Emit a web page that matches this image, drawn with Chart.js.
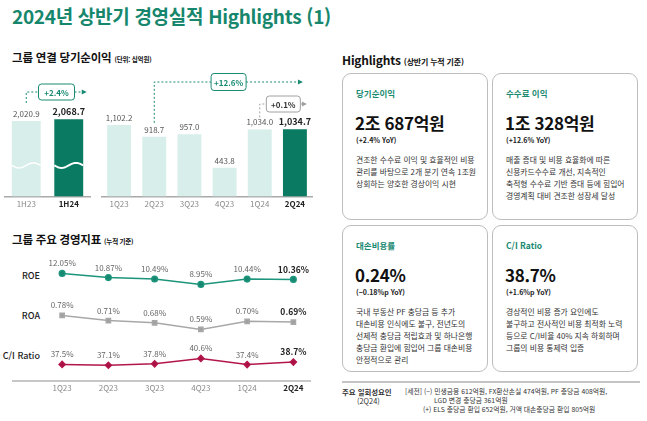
<!DOCTYPE html>
<html lang="ko">
<head>
<meta charset="utf-8">
<script src="https://cdn.jsdelivr.net/npm/chart.js@4.4.1/dist/chart.umd.min.js"></script>
<style>
  body { margin:0; width:647px; height:421px; overflow:hidden; background:#fff; position:relative;
         font-family:"Noto Sans CJK KR","Noto Sans",sans-serif; color:#222; }
  .abs { position:absolute; white-space:nowrap; }
  .title { left:12px; top:2px; font-size:19px; font-weight:700; color:#16876c; letter-spacing:-0.3px; }
  .sec { font-size:11.5px; font-weight:700; color:#111; letter-spacing:-0.2px; }
  .sec small { font-size:6.5px; font-weight:700; }
  .rowlbl { width:40px; text-align:right; left:0; font-size:9px; font-weight:500; color:#222; }
  .card { position:absolute; border:1px solid #bdbdbd; border-radius:9px; box-sizing:border-box; }
  .card .hd { position:absolute; left:13px; top:13px; font-size:8.5px; font-weight:700; color:#1a8a72; white-space:nowrap; }
  .card .big { position:absolute; left:12px; top:38px; font-size:17px; font-weight:700; color:#111; line-height:22px; white-space:nowrap; letter-spacing:-0.3px; }
  .card .yoy { position:absolute; left:13px; top:61px; font-size:7px; font-weight:700; color:#222; white-space:nowrap; }
  .card .txt { position:absolute; left:13px; top:80px; font-size:7.8px; line-height:12px; color:#333; white-space:nowrap; }
  .foot { font-size:6.8px; color:#333; }
  canvas { position:absolute; }
</style>
</head>
<body>
<div class="abs title">2024년 상반기 경영실적 Highlights (1)</div>

<div class="abs sec" style="left:12px; top:49px;">그룹 연결 당기순이익 <small>(단위: 십억원)</small></div>
<canvas id="halfChart" width="100" height="142" style="left:0; top:70px;"></canvas>
<canvas id="quarterChart" width="215" height="142" style="left:100px; top:70px;"></canvas>

<div class="abs sec" style="left:12px; top:231px;">그룹 주요 경영지표 <small>(누적 기준)</small></div>
<div class="abs rowlbl" style="top:269px;">ROE</div>
<div class="abs rowlbl" style="top:309px;">ROA</div>
<div class="abs rowlbl" style="top:349px;">C/I Ratio</div>
<canvas id="ratioChart" width="322" height="151" style="left:0; top:245px;"></canvas>

<div class="abs sec" style="left:342px; top:51px; font-size:12px;">Highlights <small style="font-size:8px;">(상반기 누적 기준)</small></div>

<div class="card" style="left:342px; top:73px; width:146px; height:147px;">
  <div class="hd">당기순이익</div>
  <div class="big">2조 687억원</div>
  <div class="yoy">(+2.4% YoY)</div>
  <div class="txt">견조한 수수료 이익 및 효율적인 비용<br>관리를 바탕으로 2개 분기 연속 1조원<br>상회하는 양호한 경상이익 시현</div>
</div>
<div class="card" style="left:492px; top:73px; width:146px; height:147px;">
  <div class="hd">수수료 이익</div>
  <div class="big">1조 328억원</div>
  <div class="yoy">(+12.6% YoY)</div>
  <div class="txt">매출 증대 및 비용 효율화에 따른<br>신용카드수수료 개선, 지속적인<br>축적형 수수료 기반 증대 등에 힘입어<br>경영계획 대비 견조한 성장세 달성</div>
</div>
<div class="card" style="left:342px; top:225px; width:146px; height:147px;">
  <div class="hd">대손비용률</div>
  <div class="big">0.24%</div>
  <div class="yoy">(−0.18%p YoY)</div>
  <div class="txt">국내 부동산 PF 충당금 등 추가<br>대손비용 인식에도 불구, 전년도의<br>선제적 충당금 적립효과 및 하나은행<br>충당금 환입에 힘입어 그룹 대손비용<br>안정적으로 관리</div>
</div>
<div class="card" style="left:492px; top:225px; width:146px; height:147px;">
  <div class="hd">C/I Ratio</div>
  <div class="big">38.7%</div>
  <div class="yoy">(+1.6%p YoY)</div>
  <div class="txt">경상적인 비용 증가 요인에도<br>불구하고 전사적인 비용 최적화 노력<br>등으로 C/I비율 40% 지속 하회하며<br>그룹의 비용 통제력 입증</div>
</div>

<div class="abs" style="left:342px; top:381px; width:298px; height:2px; background:#c4c4c4;"></div>
<div class="abs foot" style="left:342px; top:386px; font-weight:700; font-size:7.4px;">주요 일회성요인</div>
<div class="abs foot" style="left:357px; top:395px; font-size:7.4px;">(2Q24)</div>
<div class="abs foot" style="left:405px; top:386px;">[세전] (−) 민생금융 612억원, FX환산손실 474억원, PF 충당금 408억원,</div>
<div class="abs foot" style="left:434px; top:395px;">LGD 변경 충당금 361억원</div>
<div class="abs foot" style="left:423px; top:404px;">(+) ELS 충당금 환입 652억원, 거액 대손충당금 환입 805억원</div>

<script>
// data
const halfLabels = ["1H23", "1H24"];
const halfProfit = [2020.9, 2068.7];
const quarterLabels = ["1Q23", "2Q23", "3Q23", "4Q23", "1Q24", "2Q24"];
const quarterProfit = [1102.2, 918.7, 957.0, 443.8, 1034.0, 1034.7];
const roe = [12.05, 10.87, 10.49, 8.95, 10.44, 10.36];
const roa = [0.78, 0.71, 0.68, 0.59, 0.7, 0.69];
const ciRatio = [37.5, 37.1, 37.8, 40.6, 37.4, 38.7];

const LIGHT = "#d8eeea";
const DARK = "#0b7a62";
const TEAL = "#1a8a72";
const FONT = "'Noto Sans CJK KR', 'Noto Sans', sans-serif";

Chart.defaults.font.family = FONT;

// value labels above bars, last one bold
const barLabels = {
  id: "barLabels",
  afterDatasetsDraw(chart) {
    const ctx = chart.ctx;
    const vals = chart.data.datasets[0].data;
    chart.getDatasetMeta(0).data.forEach((bar, i) => {
      const last = i === vals.length - 1;
      ctx.save();
      ctx.font = (last ? "bold 9px " : "8px ") + FONT;
      ctx.fillStyle = last ? "#222" : "#555";
      ctx.textAlign = "center";
      ctx.textBaseline = "bottom";
      ctx.fillText(vals[i].toLocaleString("en-US", { minimumFractionDigits: 1 }), bar.x, bar.y - 3);
      ctx.restore();
    });
  },
};

// axis break squiggle on half-year bars
const waveBreak = {
  id: "waveBreak",
  afterDatasetsDraw(chart, args, opts) {
    if (!opts.on) return;
    const ctx = chart.ctx;
    chart.getDatasetMeta(0).data.forEach((bar, i) => {
      const y = chart.chartArea.bottom - 31;
      const left = bar.x - bar.width / 2, w = bar.width;
      ctx.save();
      ctx.strokeStyle = "#fff";
      ctx.lineWidth = i === 1 ? 2 : 1.5;
      ctx.beginPath();
      for (let k = 0; k <= 20; k++) {
        const x = left + (w * k) / 20;
        const yy = y + 2.5 * Math.sin((k / 20) * Math.PI * 2);
        k === 0 ? ctx.moveTo(x, yy) : ctx.lineTo(x, yy);
      }
      ctx.stroke();
      ctx.restore();
    });
  },
};

// dashed growth arrows with a boxed percentage
const growthArrows = {
  id: "growthArrows",
  afterDatasetsDraw(chart, args, opts) {
    const ctx = chart.ctx;
    const bars = chart.getDatasetMeta(0).data;
    (opts.list || []).forEach((a) => {
      const x0 = bars[a.from].x;
      const y0 = bars[a.from].y - a.gap;
      const x1 = bars[bars.length - 1].x + a.reach;
      const y = a.y;
      const bx = (x0 + x1) / 2 - a.w / 2;
      ctx.save();
      ctx.strokeStyle = a.color;
      ctx.fillStyle = a.color;
      ctx.lineWidth = 1;
      ctx.setLineDash([2, 2]);
      ctx.beginPath();
      ctx.moveTo(x0, y0);
      ctx.lineTo(x0, y);
      ctx.lineTo(bx, y);
      ctx.moveTo(bx + a.w, y);
      ctx.lineTo(x1 - 4, y);
      ctx.stroke();
      ctx.setLineDash([]);
      ctx.beginPath();
      ctx.moveTo(x1, y);
      ctx.lineTo(x1 - 5, y - 2.5);
      ctx.lineTo(x1 - 5, y + 2.5);
      ctx.closePath();
      ctx.fill();
      ctx.beginPath();
      ctx.roundRect(bx, y - a.h / 2, a.w, a.h, 3);
      ctx.fillStyle = "#fff";
      ctx.fill();
      ctx.stroke();
      ctx.fillStyle = a.textColor;
      ctx.font = "bold 8px " + FONT;
      ctx.textAlign = "center";
      ctx.textBaseline = "middle";
      ctx.fillText(a.text, bx + a.w / 2, y + 0.5);
      ctx.restore();
    });
  },
};

function barChart(id, labels, values, yMax, pad, arrows, wave) {
  const lastIdx = labels.length - 1;
  return new Chart(document.getElementById(id), {
    type: "bar",
    data: {
      labels: labels,
      datasets: [{
        data: values,
        backgroundColor: values.map((v, i) => (i === lastIdx ? DARK : LIGHT)),
        barPercentage: 0.68,
        categoryPercentage: 1,
      }],
    },
    options: {
      responsive: false,
      animation: false,
      layout: { padding: pad },
      plugins: {
        legend: { display: false },
        tooltip: { enabled: false },
        waveBreak: { on: wave },
        growthArrows: { list: arrows },
      },
      scales: {
        x: {
          grid: { display: false, drawTicks: false },
          border: { color: "#a9a9a9", width: 1.5 },
          ticks: {
            padding: 3,
            color: (c) => (c.index === lastIdx ? "#222" : "#8a8a8a"),
            font: (c) => ({ size: 8, weight: c.index === lastIdx ? "bold" : "normal" }),
          },
        },
        y: { display: false, min: 0, max: yMax },
      },
    },
    plugins: [barLabels, waveBreak, growthArrows],
  });
}

barChart("halfChart", halfLabels, halfProfit, 3386, { left: 5, right: 10 },
  [{ from: 0, gap: 18, reach: 18, y: 22, w: 36, h: 16, text: "+2.4%", color: TEAL, textColor: TEAL }], true);

barChart("quarterChart", quarterLabels, quarterProfit, 1950, { left: 1.5, right: 2.5 },
  [
    { from: 1, gap: 14, reach: 8, y: 12, w: 35, h: 17, text: "+12.6%", color: TEAL, textColor: TEAL },
    { from: 4, gap: 12, reach: 12, y: 34, w: 34, h: 16, text: "+0.1%", color: "#a0a0a0", textColor: "#333" },
  ], false);

// value labels over the ratio lines
const pointLabels = {
  id: "pointLabels",
  afterDatasetsDraw(chart) {
    const ctx = chart.ctx;
    chart.data.datasets.forEach((ds, di) => {
      const dec = di === 2 ? 1 : 2;
      chart.getDatasetMeta(di).data.forEach((pt, i) => {
        const last = i === ds.data.length - 1;
        ctx.save();
        ctx.font = (last ? "bold 8.5px " : "8px ") + FONT;
        ctx.fillStyle = last ? "#222" : "#666";
        ctx.textAlign = "center";
        ctx.textBaseline = "middle";
        ctx.fillText(ds.data[i].toFixed(dec) + "%", pt.x, pt.y - 10);
        ctx.restore();
      });
    });
  },
  afterDraw(chart) {
    const ctx = chart.ctx;
    const y = chart.chartArea.bottom + 0.5;
    ctx.save();
    ctx.strokeStyle = "#b5b5b5";
    ctx.lineWidth = 1.5;
    ctx.beginPath();
    ctx.moveTo(12, y);
    ctx.lineTo(311, y);
    ctx.stroke();
    ctx.restore();
  },
};

new Chart(document.getElementById("ratioChart"), {
  type: "line",
  data: {
    labels: quarterLabels,
    datasets: [
      { label: "ROE", data: roe, yAxisID: "yRoe", borderColor: "#1c957c", backgroundColor: "#17876f",
        pointStyle: "circle", pointRadius: 2.8, borderWidth: 1.5 },
      { label: "ROA", data: roa, yAxisID: "yRoa", borderColor: "#a8a8a8", backgroundColor: "#a0a0a0",
        pointStyle: "rect", pointRadius: 3, borderWidth: 1.5 },
      { label: "C/I Ratio", data: ciRatio, yAxisID: "yCi", borderColor: "#b3164c", backgroundColor: "#a8123f",
        pointStyle: "rectRot", pointRadius: 3, borderWidth: 1.5 },
    ],
  },
  options: {
    responsive: false,
    animation: false,
    layout: { padding: { left: 39, right: 0, top: 5 } },
    plugins: { legend: { display: false }, tooltip: { enabled: false } },
    scales: {
      x: {
        offset: true,
        grid: { display: false, drawTicks: false },
        border: { display: false },
        ticks: {
          padding: 3,
          color: (c) => (c.index === 5 ? "#222" : "#8a8a8a"),
          font: (c) => ({ size: 8, weight: c.index === 5 ? "bold" : "normal" }),
        },
      },
      yRoe: { display: false, min: -18.1, max: 18.5 },
      yRoa: { display: false, min: -0.102, max: 1.662 },
      yCi: { display: false, min: 29.25, max: 96.3 },
    },
  },
  plugins: [pointLabels],
});
</script>
</body>
</html>
